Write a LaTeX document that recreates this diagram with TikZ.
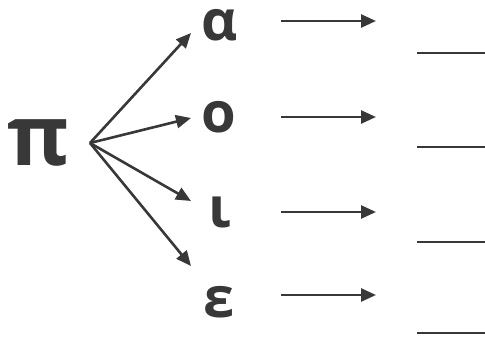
\documentclass[tikz,border=0pt]{standalone}
\usepackage{fontspec}
\setmainfont{Open Sans}
\usetikzlibrary{arrows.meta}
\definecolor{ink}{HTML}{383838}
\tikzset{
  letter/.style={inner sep=0pt, text=ink, font=\fontsize{56}{56}\selectfont\bfseries},
  big/.style={inner sep=0pt, text=ink, font=\fontsize{84}{84}\selectfont\bfseries},
  arr/.style={draw=ink, line width=2.6pt, -{Triangle[length=15pt,width=13pt]}},
  blank/.style={draw=ink, line width=2.8pt}
}
\begin{document}
\begin{tikzpicture}[x=1pt,y=-1pt]
\useasboundingbox (0,0) rectangle (485,337);
\node[big] (pi) at (39,143) {π};
\coordinate (o) at (90,143);
\node[letter] (a) at (220,25) {α};
\node[letter] (b) at (219,117) {ο};
\node[letter] (c) at (220,212) {ι};
\node[letter] (d) at (219,302) {ε};
\coordinate (ta) at (191,33);
\coordinate (tb) at (191,118);
\coordinate (tc) at (191,201);
\coordinate (td) at (191,266);
\draw[arr] (o) -- (ta);
\draw[arr] (o) -- (tb);
\draw[arr] (o) -- (tc);
\draw[arr] (o) -- (td);
\foreach \n/\y in {1/21,2/117,3/212,4/295}{
  \coordinate (s\n) at (281,\y);
  \coordinate (e\n) at (376,\y);
  \draw[arr] (s\n) -- (e\n);
}
\foreach \y in {53,147,242,333}{
  \draw[blank] (417,\y) -- (485,\y);
}
\end{tikzpicture}
\end{document}
